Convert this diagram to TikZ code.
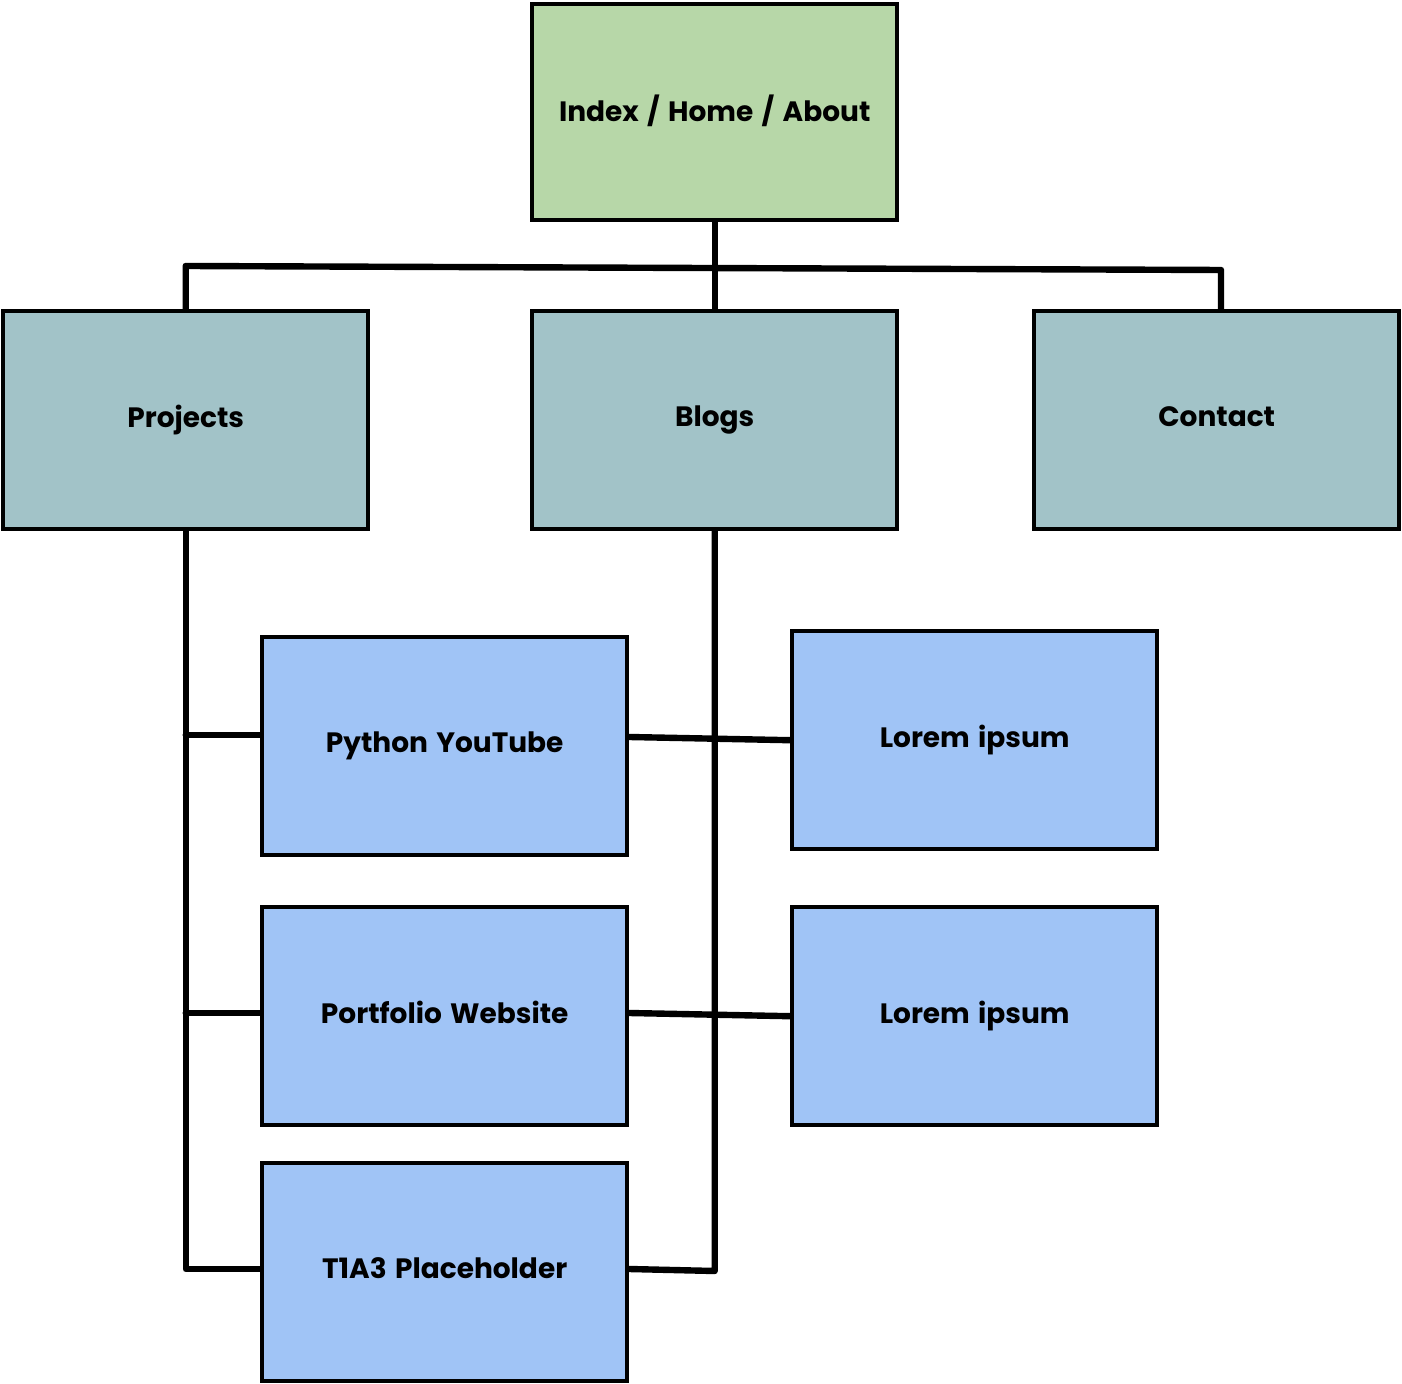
\documentclass[tikz,border=0pt]{standalone}
\usepackage{fontspec}
\setmainfont{Poppins}[WordSpace=1.4]
\definecolor{cgreen}{HTML}{B7D7A8}
\definecolor{cteal}{HTML}{A2C3C8}
\definecolor{cblue}{HTML}{A0C4F6}
\newcommand{\uptext}[1]{\raisebox{4pt}{#1}}
\begin{document}
\begin{tikzpicture}[x=0.5pt,y=-0.5pt,
  boxbase/.style={draw=black,line width=2.2pt,minimum width=182.5pt,minimum height=109pt,inner sep=0pt,anchor=north west,font=\bfseries\fontsize{14}{17}\selectfont},
  greenbox/.style={boxbase,fill=cgreen,minimum height=108pt},
  tealbox/.style={boxbase,fill=cteal},
  bluebox/.style={boxbase,fill=cblue},
  link/.style={line width=3.2pt,line cap=round,line join=round}]
\useasboundingbox (2,1) rectangle (1404,1385);
\node[greenbox] (idx) at (532,3) {\uptext{Index / Home / About}};
\node[tealbox] (proj) at (3,310) {\uptext{Projects}};
\node[tealbox] (blog) at (532,310) {\uptext{Blogs}};
\node[tealbox] (cont) at (1034,310) {\uptext{Contact}};
\node[bluebox] (py) at (262,636) {\uptext{Python YouTube}};
\node[bluebox] (pw) at (262,906) {\uptext{Portfolio Website}};
\node[bluebox] (t1) at (262,1162) {\uptext{T1A3 Placeholder}};
\node[bluebox] (l1) at (792,630) {\uptext{Lorem ipsum}};
\node[bluebox] (l2) at (792,906) {\uptext{Lorem ipsum}};
% top tree
\coordinate (hl) at (185,267);
\coordinate (hm) at (714.5,268);
\coordinate (hr) at (1223,271);
\draw[link] (idx.south) -- (idx.south |- hm) -- (blog.north);
\draw[link] (proj.north) -- (proj.north |- hl) -- (hr) -- (hr |- cont.north);
% projects trunk
\coordinate (pb) at (187,1270);
\coordinate (p1) at (187,736);
\coordinate (p2) at (187,1014);
\draw[link] (proj.south) -- (proj.south |- pb) -- (t1.west |- pb);
\draw[link] (proj.south |- p1) -- (py.west |- p1);
\draw[link] (proj.south |- p2) -- (pw.west |- p2);
% blogs trunk
\coordinate (bb) at (714.5,1272);
\draw[link] (blog.south) -- (blog.south |- bb) -- (t1.east |- pb);
\coordinate (q1) at (628,738);
\coordinate (q2) at (628,1014);
\draw[link] (py.east |- q1) -- (l1.west);
\draw[link] (pw.east |- q2) -- (l2.west);
\end{tikzpicture}
\end{document}
